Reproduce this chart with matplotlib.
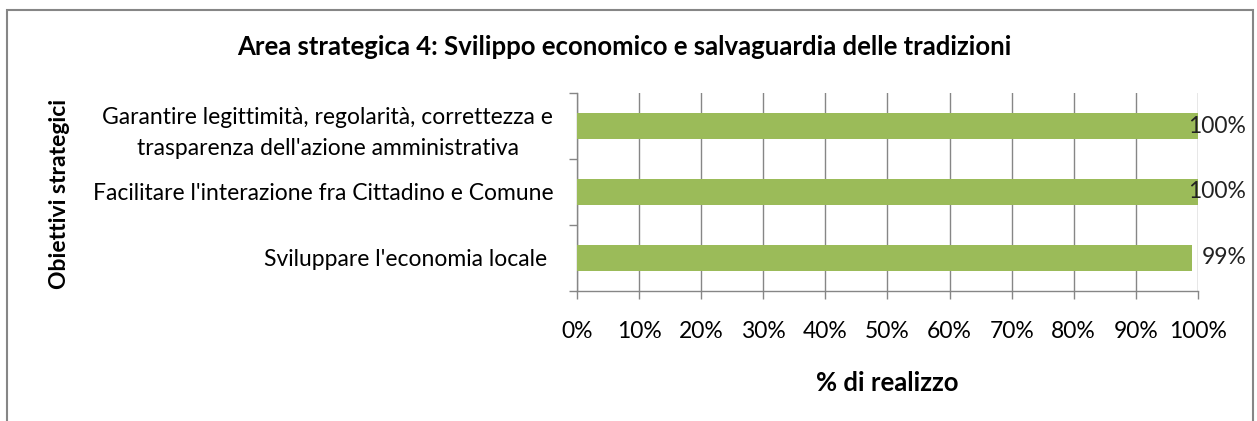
import matplotlib
matplotlib.use("Agg")
import matplotlib.pyplot as plt
from matplotlib.patches import Rectangle
from matplotlib.ticker import FixedLocator, PercentFormatter

# dati
categorie = [
    "Garantire legittimità, regolarità, correttezza e\ntrasparenza dell'azione amministrativa",
    "Facilitare l'interazione fra Cittadino e Comune",
    "Sviluppare l'economia locale ",
]
realizzo = [1.00, 1.00, 0.99]
titolo = "Area strategica 4: Svilippo economico e salvaguardia delle tradizioni"

VERDE = "#9bbb59"
GRIGIO = "#868686"
FS = 16.5

plt.rcParams['font.family'] = ['Lato', 'DejaVu Sans']

fig = plt.figure(figsize=(12.57, 4.21), dpi=100)
ax = fig.add_axes([0.459, 0.309, 0.494, 0.470])

# cornice del grafico
fig.patches.append(Rectangle((7 / 1257, -0.1), 1246 / 1257, 1.1 - 10 / 421,
                             transform=fig.transFigure, fill=False,
                             edgecolor=GRIGIO, linewidth=1.5))

pos = list(range(len(categorie)))
ax.barh(pos, realizzo, height=0.4, color=VERDE, zorder=3)

for i, v in zip(pos, realizzo):
    ax.annotate(f"{v:.0%}", xy=(v, i), xytext=(1.078, i), ha='right', va='center',
                fontsize=FS, color='#222222', zorder=4, annotation_clip=False)

ax.set_xlim(0, 1)
ax.set_ylim(len(categorie) - 0.5, -0.5)
ax.set_xticks([k / 10 for k in range(11)])
ax.xaxis.set_major_formatter(PercentFormatter(1.0, decimals=0))
ax.grid(axis='x', color=GRIGIO, linewidth=1, zorder=0)

ax.set_yticks(pos)
ax.set_yticklabels(categorie, fontsize=FS, ha='right', multialignment='center',
                   linespacing=1.6)
ax.yaxis.set_minor_locator(FixedLocator([p - 0.5 for p in pos] + [pos[-1] + 0.5]))
ax.tick_params(axis='y', which='major', length=0, pad=17)
ax.tick_params(axis='y', which='minor', length=6, color=GRIGIO, width=1)
ax.tick_params(axis='x', length=6, color=GRIGIO, width=1, labelsize=FS, pad=16)

for s in ['top', 'right']:
    ax.spines[s].set_visible(False)
for s in ['left', 'bottom']:
    ax.spines[s].set_color(GRIGIO)
    ax.spines[s].set_linewidth(1)

fig.text(887 / 1257, 1 - 383 / 421, "% di realizzo", ha='center', va='center',
         fontsize=18.5, fontweight='bold')
fig.text(60 / 1257, 1 - 194 / 421, "Obiettivi strategici", rotation=90, ha='center', va='center',
         fontsize=16.5, fontweight='bold')
fig.text(624 / 1257, 1 - 47 / 421, titolo, ha='center', va='center',
         fontsize=18.5, fontweight='bold')

fig.savefig("out.png", dpi=100, facecolor='white')
